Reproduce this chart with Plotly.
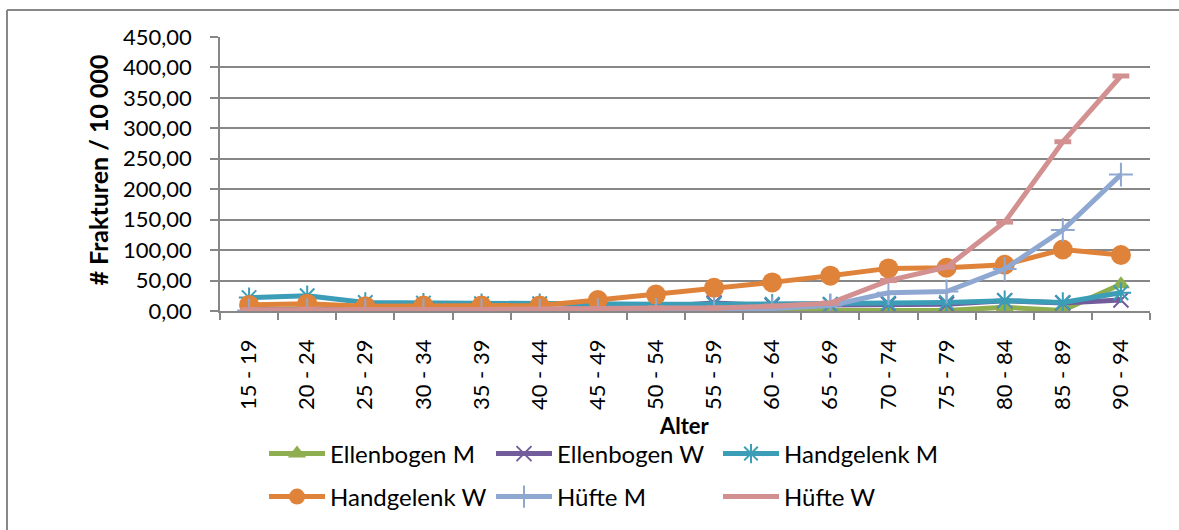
import plotly.graph_objects as go

# Age groups (x axis)
alter = ["15 - 19", "20 - 24", "25 - 29", "30 - 34", "35 - 39", "40 - 44",
         "45 - 49", "50 - 54", "55 - 59", "60 - 64", "65 - 69", "70 - 74",
         "75 - 79", "80 - 84", "85 - 89", "90 - 94"]

# Fractures per 10 000 by site and sex
ellenbogen_m = [2, 4, 1, 1, 1, 1, 1, 0, 1, 1, 1, 2, 1, 6, 1, 44]
ellenbogen_w = [2, 3, 2, 2, 2, 2, 5, 7, 13, 9, 10, 11, 11, 17, 13, 18]
handgelenk_m = [22, 25, 14, 13, 12, 12, 11, 11, 11, 11, 11, 13, 14, 17, 14, 30]
handgelenk_w = [10, 12, 8, 9, 9, 9, 18, 27, 38, 47, 58, 70, 71, 76, 101, 92]
huefte_m = [1, 1, 1, 1, 1, 1, 2, 2, 3, 4, 9, 30, 32, 69, 133, 224]
huefte_w = [2, 3, 2, 2, 2, 2, 4, 5, 5, 8, 13, 50, 72, 146, 278, 386]

y_ticks = [0, 50, 100, 150, 200, 250, 300, 350, 400, 450]

FONT = "Lato, Carlito, Calibri, sans-serif"
GRID = "#878787"

series = [
    ("Ellenbogen M", ellenbogen_m, "#8EAE4F",
     dict(symbol="triangle-up", size=16), "legend"),
    ("Ellenbogen W", ellenbogen_w, "#735C9C",
     dict(symbol="x-thin", size=15, line=dict(width=2, color="#735C9C")), "legend"),
    ("Handgelenk M", handgelenk_m, "#3C9DB7",
     dict(symbol="asterisk", size=17, line=dict(width=2, color="#3C9DB7")), "legend"),
    ("Handgelenk W", handgelenk_w, "#E0833A",
     dict(symbol="circle", size=20), "legend2"),
    ("Hüfte M", huefte_m, "#8FA8D1",
     dict(symbol="cross-thin", size=17, line=dict(width=2, color="#8FA8D1")), "legend2"),
    ("Hüfte W", huefte_w, "#D39090",
     dict(symbol="line-ew", size=12, line=dict(width=5, color="#D39090")), "legend2"),
]

fig = go.Figure()
for name, vals, color, marker, leg in series:
    marker = dict(marker, color=color)
    fig.add_trace(go.Scatter(
        x=alter, y=vals, name=name, mode="lines+markers",
        line=dict(color=color, width=5),
        marker=marker, legend=leg,
    ))

L, T, R, B = 220, 37, 29, 218
W, H = 1179, 530
PW, PH = W - L - R, H - T - B


def px(x):
    return (x - L) / PW


def py(y):
    return (H - B - y) / PH


legend_common = dict(
    orientation="h", xref="paper", yref="paper",
    xanchor="left", yanchor="middle",
    entrywidth=156, entrywidthmode="pixels",
    font=dict(family=FONT, size=24, color="#000000"),
    bgcolor="rgba(0,0,0,0)", itemwidth=56,
    tracegroupgap=0,
)

fig.update_layout(
    width=W, height=H,
    margin=dict(l=L, r=R, t=T, b=B),
    paper_bgcolor="white", plot_bgcolor="white",
    separators=", ",
    font=dict(family=FONT, size=22, color="#000000"),
    showlegend=True,
    legend=dict(legend_common, x=px(264), y=py(454)),
    legend2=dict(legend_common, x=px(264), y=py(497)),
    xaxis=dict(
        type="category", range=[-0.5, 15.5],
        tickangle=-90, tickson="boundaries",
        ticks="outside", ticklen=7, tickcolor=GRID, tickwidth=1.5,
        showline=True, linecolor=GRID, linewidth=1.5,
        showgrid=False, ticklabelstandoff=18,
        tickfont=dict(family=FONT, size=22, color="#000000"),
    ),
    yaxis=dict(
        range=[0, 450], tickvals=y_ticks, tickformat=".2f",
        ticks="outside", ticklen=8, tickcolor=GRID, tickwidth=1.5,
        showline=True, linecolor=GRID, linewidth=1.5,
        showgrid=True, gridcolor=GRID, gridwidth=1.5,
        zeroline=False, ticklabelstandoff=14,
        tickfont=dict(family=FONT, size=22, color="#000000"),
    ),
    annotations=[
        dict(text="<b># Frakturen / 10 000</b>", xref="paper", yref="paper",
             x=px(98), y=py(170), textangle=-90, showarrow=False,
             xanchor="center", yanchor="middle",
             font=dict(family=FONT, size=25, color="#000000")),
        dict(text="<b>Alter</b>", xref="paper", yref="paper",
             x=px(684), y=py(427), showarrow=False,
             xanchor="center", yanchor="middle",
             font=dict(family=FONT, size=22, color="#000000")),
    ],
    shapes=[
        dict(type="line", xref="paper", yref="paper",
             x0=px(7), x1=px(7), y0=py(10), y1=py(540),
             line=dict(color="#888888", width=2)),
        dict(type="line", xref="paper", yref="paper",
             x0=px(7), x1=px(1190), y0=py(10), y1=py(10),
             line=dict(color="#888888", width=2)),
    ],
)

fig.write_html("out.html")
